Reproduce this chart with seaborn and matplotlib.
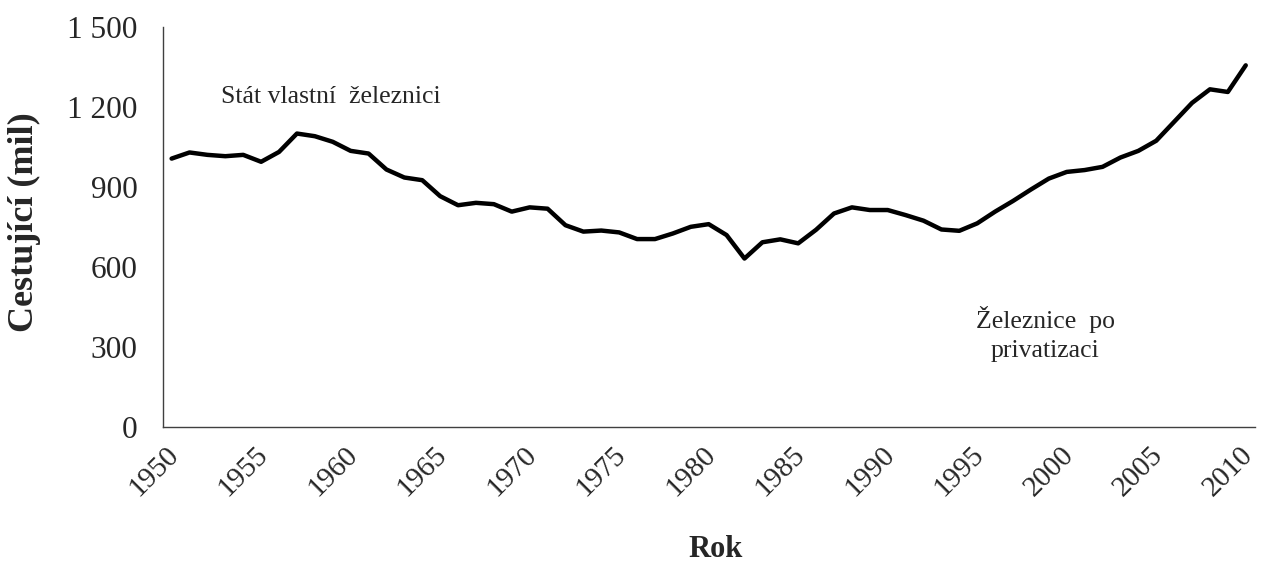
import matplotlib
matplotlib.use("Agg")
import matplotlib.pyplot as plt
import matplotlib.transforms as mtransforms
import seaborn as sns
import pandas as pd

# passengers per year (millions)
years = list(range(1950, 2011))
passengers = [1007, 1030, 1021, 1016, 1021, 995, 1032, 1101, 1091, 1070,
              1036, 1026, 966, 936, 926, 866, 832, 841, 836, 808,
              824, 819, 757, 733, 737, 730, 705, 705, 726, 751,
              761, 720, 632, 693, 704, 689, 740, 801, 824, 814,
              814, 795, 774, 741, 736, 764, 808, 848, 891, 932,
              957, 964, 976, 1011, 1036, 1074, 1145, 1216, 1267, 1257,
              1357]

y_ticks = [0, 300, 600, 900, 1200, 1500]
y_tick_labels = ["0", "300", "600", "900", "1 200", "1 500"]
x_ticks = list(range(1950, 2011, 5))

df = pd.DataFrame({"Rok": years, "Cestující": passengers})

sns.set_style("white")
plt.rcParams["font.family"] = ["Liberation Serif", "DejaVu Serif"]

fig = plt.figure(figsize=(12.61, 5.67), dpi=100)
ax = fig.add_axes([0.129, 0.247, 0.866, 0.705])

sns.lineplot(data=df, x="Rok", y="Cestující", color="black", linewidth=3.2, ax=ax)

ax.set_xlim(1949.5, 2010.5)
ax.set_ylim(0, 1500)
ax.set_yticks(y_ticks)
ax.set_yticklabels(y_tick_labels, fontsize=22.5)
ax.set_xticks(x_ticks)
ax.set_xticklabels([str(y) for y in x_ticks], fontsize=21, rotation=45,
                   ha="right", va="center", rotation_mode="anchor")
ax.set_xticks([y + 0.5 for y in range(1949, 2011)], minor=True)
ax.tick_params(axis="x", which="major", length=0, pad=17)
ax.tick_params(axis="x", which="minor", length=6, width=1, color="#404040", direction="out")
ax.tick_params(axis="y", length=6, width=1, color="#404040", direction="out", pad=12)

# nudge rotated year labels a little to the right
shift = mtransforms.ScaledTranslation(0.03, 0, fig.dpi_scale_trans)
for lab in ax.get_xticklabels():
    lab.set_transform(lab.get_transform() + shift)

for s in ["top", "right"]:
    ax.spines[s].set_visible(False)
for s in ["left", "bottom"]:
    ax.spines[s].set_color("#404040")
    ax.spines[s].set_linewidth(1)

ax.set_xlabel("Rok", fontsize=22, fontweight="bold")
ax.set_ylabel("Cestující (mil)", fontsize=26, fontweight="bold")
ax.xaxis.set_label_coords(0.506, -0.27)
ax.yaxis.set_label_coords(-0.111, 0.512)

ax.text(1958.9, 1237, "Stát vlastní  železnici", fontsize=18.5, ha="center", va="center")
ax.text(1998.8, 349, "Železnice  po\nprivatizaci", fontsize=18.5, ha="center",
        va="center", linespacing=1.45)

fig.savefig("out.png", dpi=100)
